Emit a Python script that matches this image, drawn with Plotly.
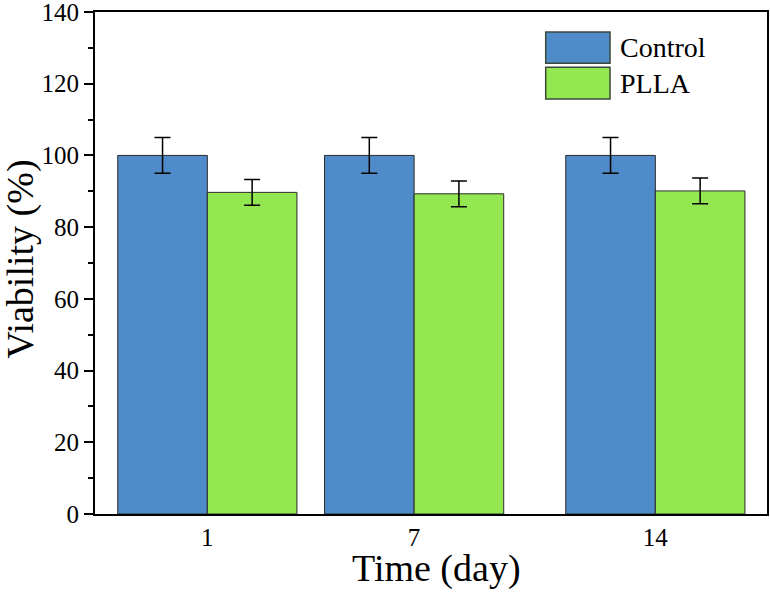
import plotly.graph_objects as go

days = [1, 7, 14]
control = [100.0, 100.0, 100.0]
control_err = [5.0, 5.0, 5.0]
plla = [89.7, 89.3, 90.1]
plla_err = [3.6, 3.6, 3.6]
series_names = ["Control", "PLLA"]
y_ticks = [0, 20, 40, 60, 80, 100, 120, 140]
x_title = "Time (day)"
y_title = "Viability (%)"

blue = "#4F8BC9"
green = "#93E852"
FONT = "Liberation Serif"

fig = go.Figure()
fig.add_trace(go.Bar(
    x=days, y=control, name=series_names[0],
    width=2.6, offset=-2.6,
    marker=dict(color=blue, line=dict(color="#2b2b2b", width=1)),
    error_y=dict(type="data", array=control_err, color="black", thickness=1.5, width=8),
    showlegend=False,
))
fig.add_trace(go.Bar(
    x=days, y=plla, name=series_names[1],
    width=2.6, offset=0,
    marker=dict(color=green, line=dict(color="#2b2b2b", width=1)),
    error_y=dict(type="data", array=plla_err, color="black", thickness=1.5, width=8),
    showlegend=False,
))

# manual legend with large swatches
leg = [(series_names[0], blue, 0.9602, 0.8978), (series_names[1], green, 0.8898, 0.8267)]
for name, col, ytop, ybot in leg:
    fig.add_shape(type="rect", xref="paper", yref="paper",
                  x0=0.6707, x1=0.7664, y0=ybot, y1=ytop,
                  fillcolor=col, line=dict(color="#3a4a3a", width=1.5))
    fig.add_annotation(xref="paper", yref="paper", x=0.7783, y=(ytop + ybot) / 2,
                       text=name, showarrow=False, xanchor="left", yanchor="middle",
                       font=dict(family=FONT, size=28, color="black"))

# axis titles as annotations for exact placement
fig.add_annotation(xref="paper", yref="paper", x=0.508, y=-0.1076, text=x_title,
                   showarrow=False, xanchor="center", yanchor="middle", borderpad=0,
                   font=dict(family=FONT, size=38, color="black"))
fig.add_annotation(xref="paper", yref="paper", x=-0.1105, y=0.508, text=y_title,
                   showarrow=False, xanchor="center", yanchor="middle", textangle=-90, borderpad=0,
                   font=dict(family=FONT, size=38, color="black"))

fig.update_layout(
    width=770, height=594,
    margin=dict(l=95, r=3, t=12, b=80, autoexpand=False),
    plot_bgcolor="white", paper_bgcolor="white",
    barmode="overlay",
    font=dict(family=FONT, size=25, color="black"),
    xaxis=dict(
        range=[-2.26, 17.24], tickmode="array", tickvals=days, ticktext=[str(d) for d in days],
        ticks="", showgrid=False, zeroline=False, automargin=False, ticklabeloverflow="allow",
        showline=True, linecolor="black", linewidth=2, mirror=True,
        tickfont=dict(family=FONT, size=25, color="black"),
    ),
    yaxis=dict(
        range=[0, 140], tickmode="array", tickvals=y_ticks, ticktext=[str(v) for v in y_ticks],
        ticks="outside", ticklen=9, tickwidth=2, tickcolor="black",
        minor=dict(ticks="outside", ticklen=5, tickwidth=2, tickcolor="black",
                   tickvals=[10, 30, 50, 70, 90, 110, 130], showgrid=False),
        showgrid=False, zeroline=False, automargin=False, ticklabeloverflow="allow",
        showline=True, linecolor="black", linewidth=2, mirror=True,
        tickfont=dict(family=FONT, size=25, color="black"),
    ),
)

fig.write_html("out.html", config={"displayModeBar": False},
               post_script="document.body.style.margin='0';document.body.style.overflow='hidden';")
